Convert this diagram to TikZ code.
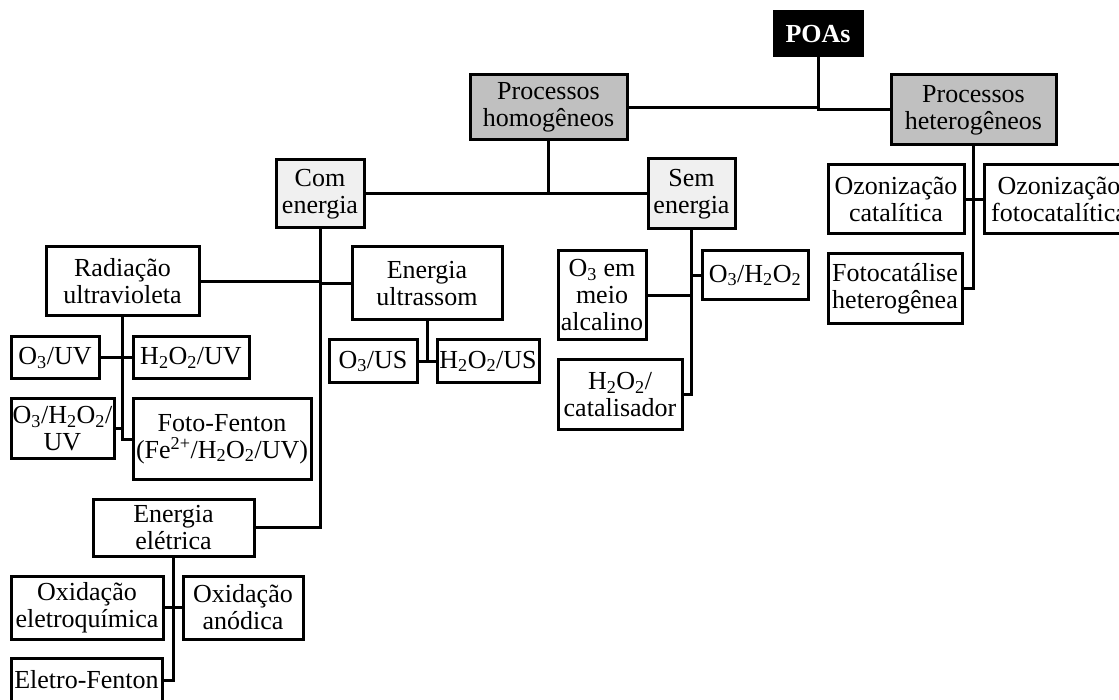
\documentclass[tikz,border=0pt]{standalone}
\usepackage{fontspec}
\setmainfont{Liberation Serif}
\definecolor{groupgrey}{RGB}{192,192,192}
\definecolor{kindgrey}{RGB}{240,240,240}
\begin{document}
\begin{tikzpicture}[x=1pt, y=-1pt,
  box/.style={draw, line width=3pt, fill=white, align=center, inner sep=0.5pt,
    font=\fontsize{26}{27}\selectfont},
  root/.style={box, fill=black, text=white, font=\fontsize{26}{27}\selectfont\bfseries},
  group/.style={box, fill=groupgrey},
  kind/.style={box, fill=kindgrey},
  link/.style={line width=3pt}]
\clip (0,0) rectangle (1119,700);

% top levels
\node[root, minimum width=88, minimum height=44] (poas) at (818,34) {POAs};
\node[group, minimum width=157, minimum height=65] (hom) at (548.5,107.5) {Processos\\homogêneos};
\node[group, minimum width=165, minimum height=70] (het) at (973.5,110) {Processos\\heterogêneos};
\node[kind, minimum width=88, minimum height=68] (com) at (320,194) {Com\\energia};
\node[kind, minimum width=87, minimum height=70] (sem) at (691.5,194) {Sem\\energia};

% com energia
\node[box, minimum width=153, minimum height=69] (rad) at (122.5,281.5) {Radiação\\ultravioleta};
\node[box, minimum width=150, minimum height=73] (ult) at (427,283.5) {Energia\\ultrassom};
\node[box, minimum width=88, minimum height=42] (o3uv) at (55,358) {O\textsubscript{3}/UV};
\node[box, minimum width=116, minimum height=42] (h2o2uv) at (191,358) {H\textsubscript{2}O\textsubscript{2}/UV};
\node[box, minimum width=103, minimum height=59] (o3h2o2uv) at (62.5,428.5) {O\textsubscript{3}/H\textsubscript{2}O\textsubscript{2}/\\UV};
\node[box, minimum width=178, minimum height=80] (foto) at (222,439) {Foto-Fenton\\(Fe\textsuperscript{2+}/H\textsubscript{2}O\textsubscript{2}/UV)};
\node[box, minimum width=88, minimum height=43] (o3us) at (373,361.5) {O\textsubscript{3}/US};
\node[box, minimum width=102, minimum height=43] (h2o2us) at (488,361.5) {H\textsubscript{2}O\textsubscript{2}/US};
\node[box, minimum width=161, minimum height=57] (ele) at (173.5,527.5) {Energia\\elétrica};
\node[box, minimum width=152, minimum height=63] (oxe) at (87,607.5) {Oxidação\\eletroquímica};
\node[box, minimum width=120, minimum height=63] (oxa) at (243,607.5) {Oxidação\\anódica};
\node[box, minimum width=151, minimum height=44] (eletrof) at (86.5,680) {Eletro-Fenton};

% sem energia
\node[box, minimum width=88, minimum height=89] (alc) at (602,295.5) {O\textsubscript{3} em\\meio\\alcalino};
\node[box, minimum width=106, minimum height=49] (o3h2o2) at (755,275.5) {O\textsubscript{3}/H\textsubscript{2}O\textsubscript{2}};
\node[box, minimum width=124, minimum height=69] (cat) at (620,394.5) {H\textsubscript{2}O\textsubscript{2}/\\catalisador};

% heterogeneos
\node[box, minimum width=136, minimum height=69] (ozc) at (896,199.5) {Ozonização\\catalítica};
\node[box, minimum width=150, minimum height=69] (ozf) at (1059,199.5) {Ozonização\\fotocatalítica};
\node[box, minimum width=134, minimum height=70] (fhet) at (895,289) {Fotocatálise\\heterogênea};

% connectors
\draw[link] (poas.south) |- (het.west);
\draw[link] (hom.east) -- (hom.east -| poas.south);
\draw[link] (hom.south) |- (com.east);
\draw[link] (hom.south) |- (sem.west);

\draw[link] (com.south) |- (ele.east);
\draw[link] (rad.east) -- (rad.east -| com.south);
\draw[link] (ult.west) -- (ult.west -| com.south);
\draw[link] (rad.south) |- (foto.west);
\draw[link] (o3uv.east) -- (h2o2uv.west);
\draw[link] (o3h2o2uv.east) -- (o3h2o2uv.east -| rad.south);
\draw[link] (ult.south) -- (ult.south |- o3us.east);
\draw[link] (o3us.east) -- (h2o2us.west);
\draw[link] (ele.south) |- (eletrof.east);
\draw[link] (oxe.east) -- (oxa.west);

\draw[link] (sem.south) |- (cat.east);
\draw[link] (o3h2o2.west) -- (o3h2o2.west -| sem.south);
\draw[link] (alc.east) -- (alc.east -| sem.south);

\draw[link] (het.south) |- (fhet.east);
\draw[link] (ozc.east) -- (ozf.west);
\end{tikzpicture}
\end{document}
